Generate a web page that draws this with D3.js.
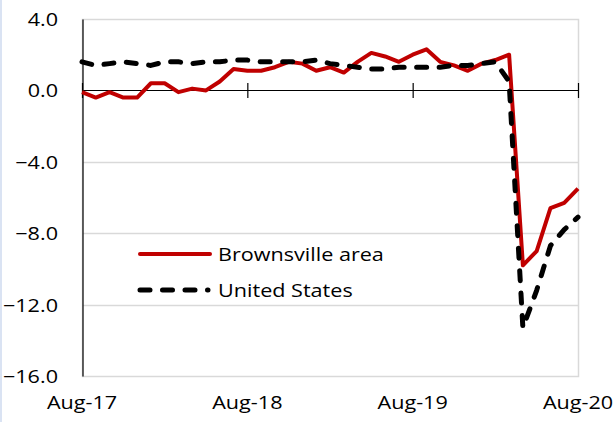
<!DOCTYPE html>
<html>
<head>
<meta charset="utf-8">
<script src="https://cdn.jsdelivr.net/npm/d3@7"></script>
<style>
  html, body { margin: 0; padding: 0; background: #fff; }
  svg { display: block; }
  text { font-family: "Open Sans", "Noto Sans", sans-serif; fill: #000; }
</style>
</head>
<body>
<svg id="chart" width="616" height="422"></svg>
<script>
const months = [
  "Aug-17","Sep-17","Oct-17","Nov-17","Dec-17",
  "Jan-18","Feb-18","Mar-18","Apr-18","May-18","Jun-18","Jul-18","Aug-18","Sep-18","Oct-18","Nov-18","Dec-18",
  "Jan-19","Feb-19","Mar-19","Apr-19","May-19","Jun-19","Jul-19","Aug-19","Sep-19","Oct-19","Nov-19","Dec-19",
  "Jan-20","Feb-20","Mar-20","Apr-20","May-20","Jun-20","Jul-20","Aug-20"
];
const brownsville = [
  -0.1, -0.4, -0.1, -0.4, -0.4,
  0.4, 0.4, -0.1, 0.1, 0.0, 0.5, 1.2, 1.1, 1.1, 1.3, 1.6, 1.5,
  1.1, 1.3, 1.0, 1.6, 2.1, 1.9, 1.6, 2.0, 2.3, 1.6, 1.4, 1.1,
  1.5, 1.7, 2.0, -9.8, -9.0, -6.6, -6.3, -5.5
];
const unitedStates = [
  1.6, 1.4, 1.5, 1.6, 1.5,
  1.4, 1.6, 1.6, 1.5, 1.6, 1.6, 1.7, 1.7, 1.6, 1.6, 1.6, 1.6,
  1.7, 1.5, 1.4, 1.3, 1.2, 1.2, 1.3, 1.3, 1.3, 1.3, 1.4, 1.4,
  1.5, 1.6, 0.5, -13.3, -11.2, -8.7, -7.8, -7.1
];
const xTickLabels = ["Aug-17","Aug-18","Aug-19","Aug-20"];
const yTicks = [4, 0, -4, -8, -12, -16];
const gridValues = [-4, -8, -12];
const seriesNames = ["Brownsville area", "United States"];

const svg = d3.select("#chart");
const L = 82, R = 578, T = 19, B = 376;
const SX = 1.2;

const x = d3.scalePoint().domain(months).range([L, R]);
const y = d3.scaleLinear().domain([-16, 4]).range([B, T]);

// left page strip
svg.append("rect").attr("x", 0).attr("y", 0).attr("width", 2).attr("height", 422).attr("fill", "#dae3f3");

// plot border
svg.append("rect")
  .attr("x", L + 0.5).attr("y", y(4) + 0.5)
  .attr("width", R - L).attr("height", y(-16) - y(4))
  .attr("fill", "none").attr("stroke", "#d9d9d9").attr("stroke-width", 1.5);

// gridlines
svg.append("g").selectAll("line").data(gridValues).join("line")
  .attr("x1", L).attr("x2", R)
  .attr("y1", d => Math.round(y(d)) + 0.5).attr("y2", d => Math.round(y(d)) + 0.5)
  .attr("stroke", "#d9d9d9").attr("stroke-width", 1.5);

// y axis
const yAxis = d3.axisLeft(y).tickValues(yTicks).tickSize(0).tickFormat(d3.format(".1f"));
const gy = svg.append("g").attr("transform", `translate(${L + 0.5},0)`).call(yAxis);
gy.select(".domain").attr("stroke", "#000").attr("stroke-width", 1.2);
gy.selectAll(".tick text").remove();
gy.selectAll(".tick").append("text")
  .attr("text-anchor", "end")
  .attr("transform", `translate(${58 - L - 0.5},6.5) scale(${SX},1)`)
  .attr("font-size", 18)
  .attr("fill", "#000")
  .text(d => d3.format(".1f")(d));

// zero axis line with cross ticks
const y0 = Math.round(y(0)) + 0.5;
const xAxis = d3.axisBottom(x).tickValues(xTickLabels).tickSize(15).tickSizeOuter(0).tickFormat("");
const gx = svg.append("g").attr("transform", `translate(0,${y0 - 7.5})`).call(xAxis);
gx.select(".domain").remove();
gx.selectAll(".tick line").attr("stroke", "#000").attr("stroke-width", 1.2);
svg.append("line").attr("x1", L).attr("x2", R).attr("y1", y0).attr("y2", y0)
  .attr("stroke", "#000").attr("stroke-width", 1.2);

// x labels
svg.append("g").selectAll("text").data(xTickLabels).join("text")
  .attr("text-anchor", "middle")
  .attr("transform", d => `translate(${x(d)},409) scale(${SX},1)`)
  .attr("font-size", 18)
  .text(d => d);

// lines
const line = d3.line().x((d, i) => x(months[i])).y(d => y(d));
svg.append("path").datum(brownsville)
  .attr("d", line).attr("fill", "none")
  .attr("stroke", "#c00000").attr("stroke-width", 4)
  .attr("stroke-linejoin", "round");
svg.append("path").datum(unitedStates)
  .attr("d", line).attr("fill", "none")
  .attr("stroke", "#000").attr("stroke-width", 5)
  .attr("stroke-dasharray", "10,12.5").attr("stroke-linecap", "round")
  .attr("stroke-linejoin", "round");

// legend
const leg = svg.append("g");
leg.append("line").attr("x1", 140).attr("x2", 210).attr("y1", 254).attr("y2", 254)
  .attr("stroke", "#c00000").attr("stroke-width", 4).attr("stroke-linecap", "round");
leg.append("line").attr("x1", 140).attr("x2", 208).attr("y1", 290).attr("y2", 290)
  .attr("stroke", "#000").attr("stroke-width", 5)
  .attr("stroke-dasharray", "10,12.5").attr("stroke-linecap", "round");
leg.selectAll("text").data(seriesNames).join("text")
  .attr("transform", (d, i) => `translate(218,${260.5 + i * 36}) scale(${SX},1)`)
  .attr("font-size", 18)
  .text(d => d);
</script>
</body>
</html>
